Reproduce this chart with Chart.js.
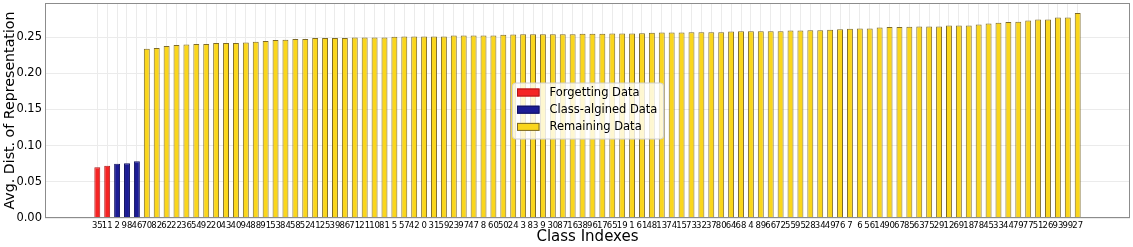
<!DOCTYPE html>
<html>
<head>
<meta charset="utf-8">
<script src="https://cdn.jsdelivr.net/npm/chart.js@4/dist/chart.umd.min.js"></script>
<style>
  html, body { margin: 0; padding: 0; background: #fff; }
  #wrap { width: 1133px; height: 247px; }
</style>
</head>
<body>
<div id="wrap"><canvas id="grafico"></canvas></div>
<script>
// Orden de clases en el eje x (ordenadas por distancia)
const classLabels = [35, 11, 2, 98, 46, 70, 82, 62, 22, 36, 54, 92, 20, 43, 40, 94, 88, 91, 53, 84,
  58, 52, 41, 25, 39, 86, 71, 21, 10, 81, 5, 57, 42, 0, 31, 59, 23, 97, 47, 8,
  60, 50, 24, 3, 83, 9, 30, 87, 16, 38, 96, 17, 65, 19, 1, 61, 48, 13, 74, 15,
  73, 32, 37, 80, 64, 68, 4, 89, 66, 72, 55, 95, 28, 34, 49, 76, 7, 6, 56, 14,
  90, 67, 85, 63, 75, 29, 12, 69, 18, 78, 45, 33, 44, 79, 77, 51, 26, 93, 99, 27];

// Valores por grupo
const forgettingDist = [0.0700, 0.0722];
const alignedDist = [0.0750, 0.0755, 0.0785];
const remainingDist = [0.2337, 0.2347, 0.2375, 0.2389, 0.2397, 0.2402, 0.2402, 0.2416, 0.2416, 0.2416,
  0.2424, 0.2434, 0.2444, 0.2458, 0.2462, 0.2472, 0.2472, 0.2485, 0.2485, 0.2485,
  0.2485, 0.2494, 0.2494, 0.2494, 0.2494, 0.2503, 0.2508, 0.2508, 0.2508, 0.2508,
  0.2508, 0.2521, 0.2521, 0.2521, 0.2521, 0.2521, 0.2531, 0.2535, 0.2540, 0.2540,
  0.2540, 0.2540, 0.2540, 0.2540, 0.2544, 0.2544, 0.2544, 0.2549, 0.2549, 0.2549,
  0.2553, 0.2558, 0.2562, 0.2562, 0.2562, 0.2567, 0.2567, 0.2567, 0.2567, 0.2576,
  0.2581, 0.2581, 0.2581, 0.2581, 0.2581, 0.2590, 0.2590, 0.2595, 0.2595, 0.2600,
  0.2609, 0.2614, 0.2618, 0.2618, 0.2632, 0.2637, 0.2637, 0.2641, 0.2646, 0.2646,
  0.2646, 0.2660, 0.2660, 0.2660, 0.2674, 0.2687, 0.2697, 0.2707, 0.2711, 0.2729,
  0.2743, 0.2743, 0.2770, 0.2770, 0.2831];

const yTicks = [0, 0.05, 0.10, 0.15, 0.20, 0.25];

const groups = [
  { label: 'Forgetting Data', values: forgettingDist, fill: '#f52424', edge: '#b01818' },
  { label: 'Class-algined Data', values: alignedDist, fill: '#1c1c94', edge: '#12125e' },
  { label: 'Remaining Data', values: remainingDist, fill: '#fad61c', edge: '#7d6a28' }
];

// Posición de cada barra = índice en el orden global
let start = 0;
const datasets = groups.map(g => {
  const ds = {
    label: g.label,
    data: g.values.map((v, i) => ({ x: start + i, y: v })),
    backgroundColor: g.fill,
    borderColor: g.edge,
    borderWidth: 1,
    borderSkipped: 'bottom',
    grouped: false,
    categoryPercentage: 1,
    barPercentage: 0.6
  };
  start += g.values.length;
  return ds;
});

const FONT = '"DejaVu Sans", sans-serif';

// Marco del gráfico y leyenda en el centro
const framePlugin = {
  id: 'frame',
  afterDraw(chart) {
    const { ctx, chartArea: a } = chart;
    ctx.save();
    ctx.strokeStyle = '#8c8c8c';
    ctx.lineWidth = 1;
    ctx.strokeRect(a.left + 0.5, a.top + 0.5, a.right - a.left - 1, a.bottom - a.top - 1);

    const w = 151, h = 56;
    const bx = (a.left + a.right) / 2 - w / 2;
    const by = (a.top + a.bottom) / 2 - h / 2;
    ctx.fillStyle = 'rgba(255,255,255,0.8)';
    ctx.strokeStyle = '#d0d0d0';
    ctx.beginPath();
    ctx.roundRect(bx + 0.5, by + 0.5, w, h, 3);
    ctx.fill();
    ctx.stroke();
    ctx.font = '11.5px ' + FONT;
    ctx.textBaseline = 'middle';
    groups.forEach((g, i) => {
      const cy = by + 10 + i * 17.2;
      ctx.fillStyle = g.fill;
      ctx.strokeStyle = g.edge;
      ctx.fillRect(bx + 5, cy - 4, 22.5, 8);
      ctx.strokeRect(bx + 5.5, cy - 3.5, 21.5, 7);
      ctx.fillStyle = '#000';
      ctx.fillText(g.label, bx + 37.5, cy + 0.5);
    });
    ctx.restore();
  }
};

new Chart(document.getElementById('grafico'), {
  type: 'bar',
  data: { datasets: datasets },
  options: {
    responsive: true,
    maintainAspectRatio: false,
    animation: false,
    layout: { padding: { top: 3, right: 3, left: 0, bottom: 0 } },
    plugins: {
      legend: { display: false },
      tooltip: { enabled: false }
    },
    scales: {
      x: {
        type: 'linear',
        min: -5.28,
        max: 104.28,
        offset: false,
        afterFit(scale) {
          scale.height = 29;
          scale.paddingLeft = 0;
          scale.paddingRight = 0;
        },
        afterBuildTicks(scale) {
          scale.ticks = classLabels.map((_, i) => ({ value: i }));
        },
        grid: { color: '#ebebeb', drawTicks: false, offset: false },
        border: { display: false },
        ticks: {
          autoSkip: false,
          maxRotation: 0,
          minRotation: 0,
          padding: 3,
          color: '#000',
          font: { family: FONT, size: 8.5 },
          callback: (v) => classLabels[v]
        },
        title: {
          display: true,
          text: 'Class Indexes',
          color: '#000',
          font: { family: FONT, size: 15 },
          padding: { top: 0, bottom: 1 }
        }
      },
      y: {
        min: 0,
        max: 0.297,
        afterFit(scale) {
          scale.width = 45;
          scale.paddingTop = 0;
          scale.paddingBottom = 0;
        },
        afterBuildTicks(scale) {
          scale.ticks = yTicks.map(v => ({ value: v }));
        },
        grid: { color: '#ebebeb', drawTicks: false },
        border: { display: false },
        ticks: {
          padding: 3,
          color: '#000',
          font: { family: FONT, size: 11.5 },
          callback: (v) => v.toFixed(2)
        },
        title: {
          display: true,
          text: 'Avg. Dist. of Representation',
          color: '#000',
          font: { family: FONT, size: 14.2 },
          padding: { top: 1.6, bottom: 0 }
        }
      }
    }
  },
  plugins: [framePlugin]
});
</script>
</body>
</html>
